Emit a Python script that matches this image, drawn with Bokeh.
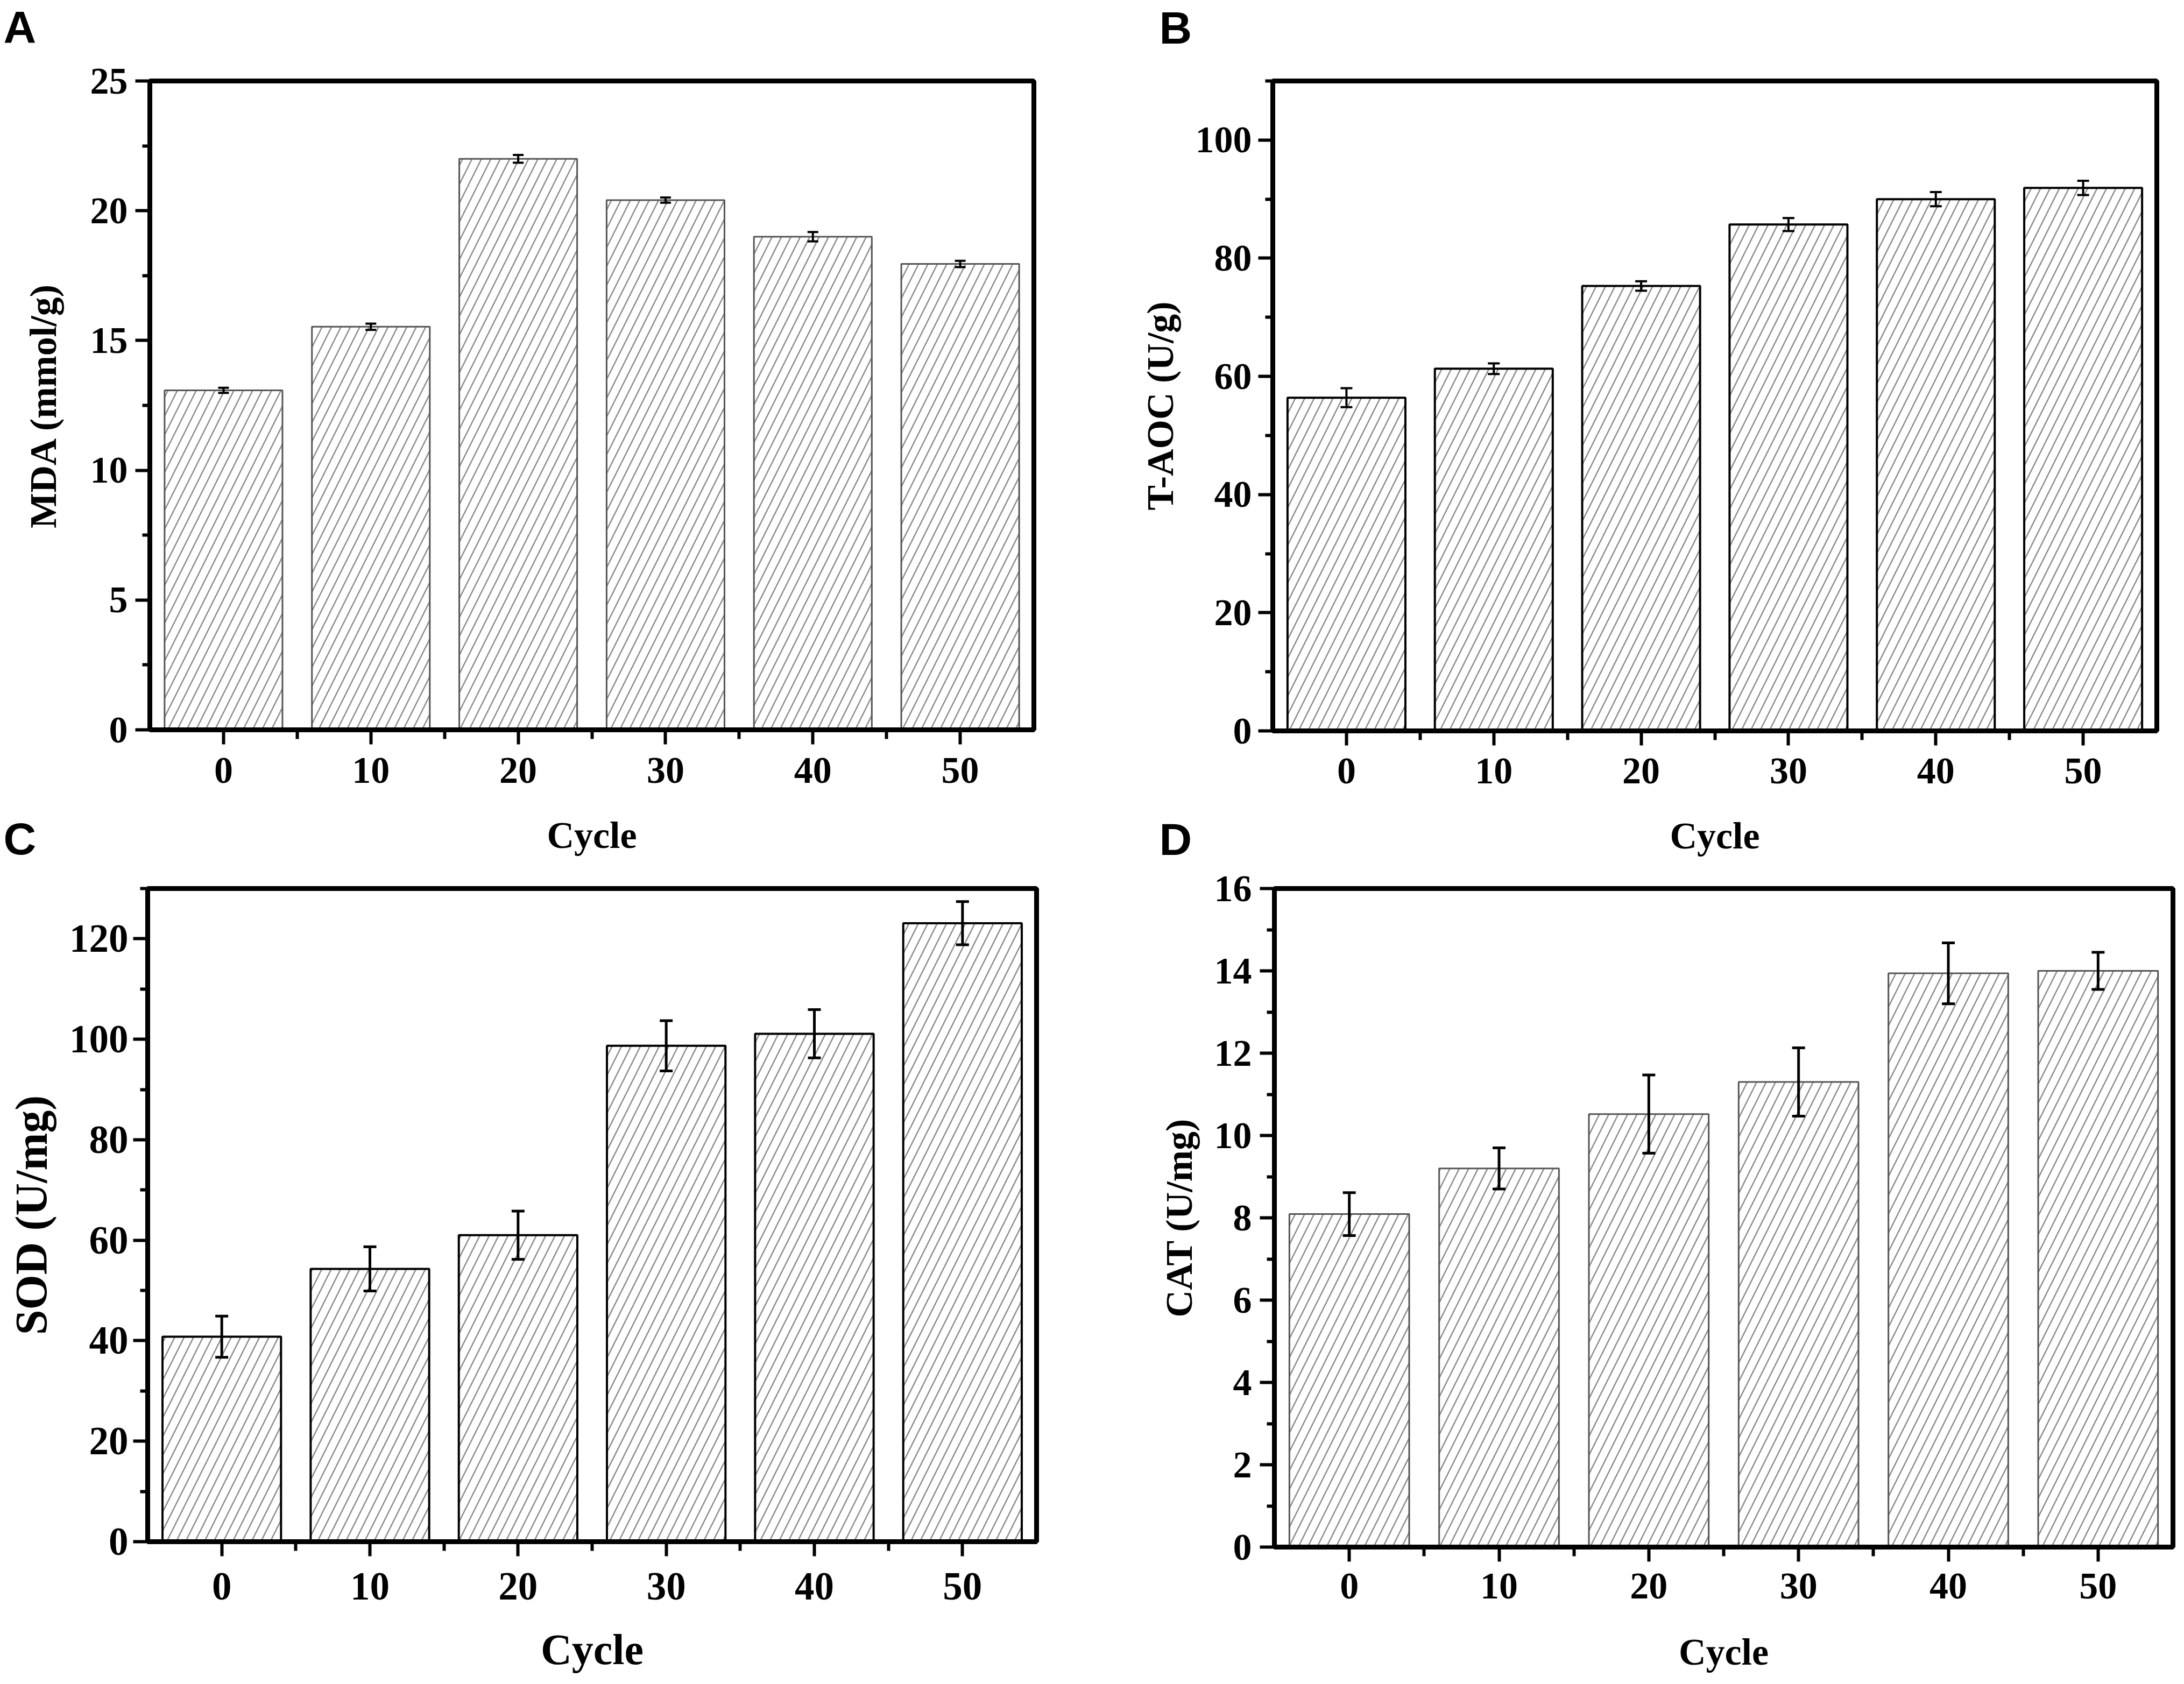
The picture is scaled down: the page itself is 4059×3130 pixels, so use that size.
from bokeh.plotting import figure
from bokeh.models import Range1d, FixedTicker, Whisker, TeeHead, ColumnDataSource, Label
from bokeh.layouts import column, row
from bokeh.embed import file_html
from bokeh.resources import INLINE

cycles = [0, 10, 20, 30, 40, 50]
x_major = [0, 10, 20, 30, 40, 50]
x_minor = [5, 15, 25, 35, 45]

mda = [13.08, 15.53, 22.0, 20.41, 19.0, 17.95]
mda_err = [0.10, 0.12, 0.15, 0.10, 0.18, 0.12]
taoc = [56.4, 61.3, 75.3, 85.7, 90.0, 91.9]
taoc_err = [1.6, 0.9, 0.8, 1.1, 1.2, 1.2]
sod = [40.8, 54.3, 61.0, 98.7, 101.1, 123.1]
sod_err = [4.1, 4.4, 4.8, 5.0, 4.8, 4.3]
cat = [8.09, 9.2, 10.52, 11.3, 13.94, 14.0]
cat_err = [0.52, 0.5, 0.95, 0.83, 0.74, 0.45]

SERIF = "Liberation Serif"
SANS = "Liberation Sans"
XLO, XHI = -5, 55


def panel(vals, errs, ylabel, ymax, yticks, yminor, g):
    p = figure(
        frame_width=g["fw"], frame_height=g["fh"],
        min_border_left=g["bl"], min_border_right=g["br"],
        min_border_top=g["bt"], min_border_bottom=g["bb"],
        x_range=Range1d(XLO, XHI), y_range=Range1d(0, ymax),
        output_backend="svg", toolbar_location=None, title=None,
    )
    p.background_fill_color = "white"
    p.border_fill_color = "white"
    p.xgrid.visible = False
    p.ygrid.visible = False
    p.outline_line_color = "black"
    p.outline_line_width = 9
    p.outline_line_alpha = 1.0

    lo = [v - e for v, e in zip(vals, errs)]
    hi = [v + e for v, e in zip(vals, errs)]
    src = ColumnDataSource(dict(x=cycles, top=vals, lo=lo, hi=hi))
    p.vbar(x="x", top="top", bottom=0, width=8, source=src,
           fill_color="white", line_color=g["bar_line"], line_width=g["bar_lw"],
           hatch_pattern="/", hatch_scale=35, hatch_weight=2.5,
           hatch_color="#8c8c8c")
    w = Whisker(base="x", upper="hi", lower="lo", source=src, level="overlay",
                line_color="black", line_width=g["err_lw"],
                upper_head=TeeHead(size=g["cap"], line_color="black", line_width=g["err_lw"]),
                lower_head=TeeHead(size=g["cap"], line_color="black", line_width=g["err_lw"]))
    p.add_layout(w)

    for ax in (p.xaxis[0], p.yaxis[0]):
        ax.axis_line_color = "black"
        ax.axis_line_width = 9
        ax.major_tick_line_color = "black"
        ax.major_tick_line_width = 6
        ax.minor_tick_line_color = "black"
        ax.minor_tick_line_width = 6
        ax.major_tick_in = 0
        ax.major_tick_out = 27
        ax.minor_tick_in = 0
        ax.major_label_text_font = SERIF
        ax.major_label_text_font_style = "bold"
        ax.major_label_text_color = "black"
        ax.axis_label_text_font = SERIF
        ax.axis_label_text_font_style = "bold"
        ax.axis_label_text_color = "black"

    xa = p.xaxis[0]
    xa.ticker = FixedTicker(ticks=x_major, minor_ticks=x_minor)
    xa.minor_tick_out = 17
    xa.major_label_text_font_size = g["tick_fs"]
    xa.major_label_standoff = g["x_ls"]
    xa.axis_label = "Cycle"
    xa.axis_label_text_font_size = g["xlab_fs"]
    xa.axis_label_standoff = g["x_as"]

    ya = p.yaxis[0]
    ya.ticker = FixedTicker(ticks=yticks, minor_ticks=yminor)
    ya.minor_tick_out = 14
    ya.major_label_text_font_size = g["tick_fs"]
    ya.major_label_standoff = g["y_ls"]
    ya.axis_label = ylabel
    ya.axis_label_text_font_size = g["ylab_fs"]
    ya.axis_label_standoff = g["y_as"]
    return p


def letter(p, g, ymax, text, ax, ay, side):
    # ax, ay: page pixel position of the letter (left edge, vertical middle);
    # the label sits in a side panel so that it is not clipped to the frame
    fx0 = g["ox"] + g["bl"]
    fy0 = g["oy"] + g["bt"]
    x = XLO + (ax - fx0) * (XHI - XLO) / g["fw"]
    y = ymax - (ay - fy0) * ymax / g["fh"]
    p.add_layout(Label(x=x, y=y, text=text,
                       text_font=SANS, text_font_style="bold", text_font_size="84px",
                       text_color="black", text_align="left", text_baseline="middle"),
                 side)


ROW2 = 1618
gA = dict(ox=8, oy=8, fw=1643, fh=1206, bl=278, br=94, bt=150, bb=254, bar_line="#555555", bar_lw=3,
          err_lw=4, cap=20, tick_fs="70px", x_ls=25, xlab_fs="70px", x_as=56,
          y_ls=14, ylab_fs="70px", y_as=46)
gB = dict(ox=2023, oy=8, fw=1643, fh=1208, bl=350, br=35, bt=149, bb=253, bar_line="black", bar_lw=4,
          err_lw=4, cap=22, tick_fs="70px", x_ls=24, xlab_fs="70px", x_as=56,
          y_ls=12, ylab_fs="70px", y_as=24)
gC = dict(ox=8, oy=ROW2, fw=1652, fh=1214, bl=274, br=182, bt=35, bb=255, bar_line="black", bar_lw=4,
          err_lw=5, cap=24, tick_fs="73px", x_ls=31, xlab_fs="80px", x_as=46,
          y_ls=9, ylab_fs="84px", y_as=21)
gD = dict(ox=2116, oy=ROW2, fw=1670, fh=1224, bl=260, br=5, bt=41, bb=239, bar_line="#555555", bar_lw=3,
          err_lw=5, cap=24, tick_fs="70px", x_ls=22, xlab_fs="70px", x_as=58,
          y_ls=15, ylab_fs="70px", y_as=24)

pA = panel(mda, mda_err, "MDA (mmol/g)", 25, [0, 5, 10, 15, 20, 25],
           [2.5, 7.5, 12.5, 17.5, 22.5], gA)
pB = panel(taoc, taoc_err, "T-AOC (U/g)", 110, [0, 20, 40, 60, 80, 100],
           [10, 30, 50, 70, 90, 110], gB)
pC = panel(sod, sod_err, "SOD (U/mg)", 130, [0, 20, 40, 60, 80, 100, 120],
           [10, 30, 50, 70, 90, 110, 130], gC)
pD = panel(cat, cat_err, "CAT (U/mg)", 16, [0, 2, 4, 6, 8, 10, 12, 14, 16],
           [1, 3, 5, 7, 9, 11, 13, 15], gD)

letter(pA, gA, 25, "A", 14, 58, "above")
letter(pA, gA, 25, "C", 14, 1566, "right")
letter(pB, gB, 110, "B", 2162, 58, "above")
letter(pB, gB, 110, "D", 2162, 1566, "left")

layout = column(row(pA, pB), row(pC, pD))
open("out.html", "w").write(file_html(layout, INLINE))
